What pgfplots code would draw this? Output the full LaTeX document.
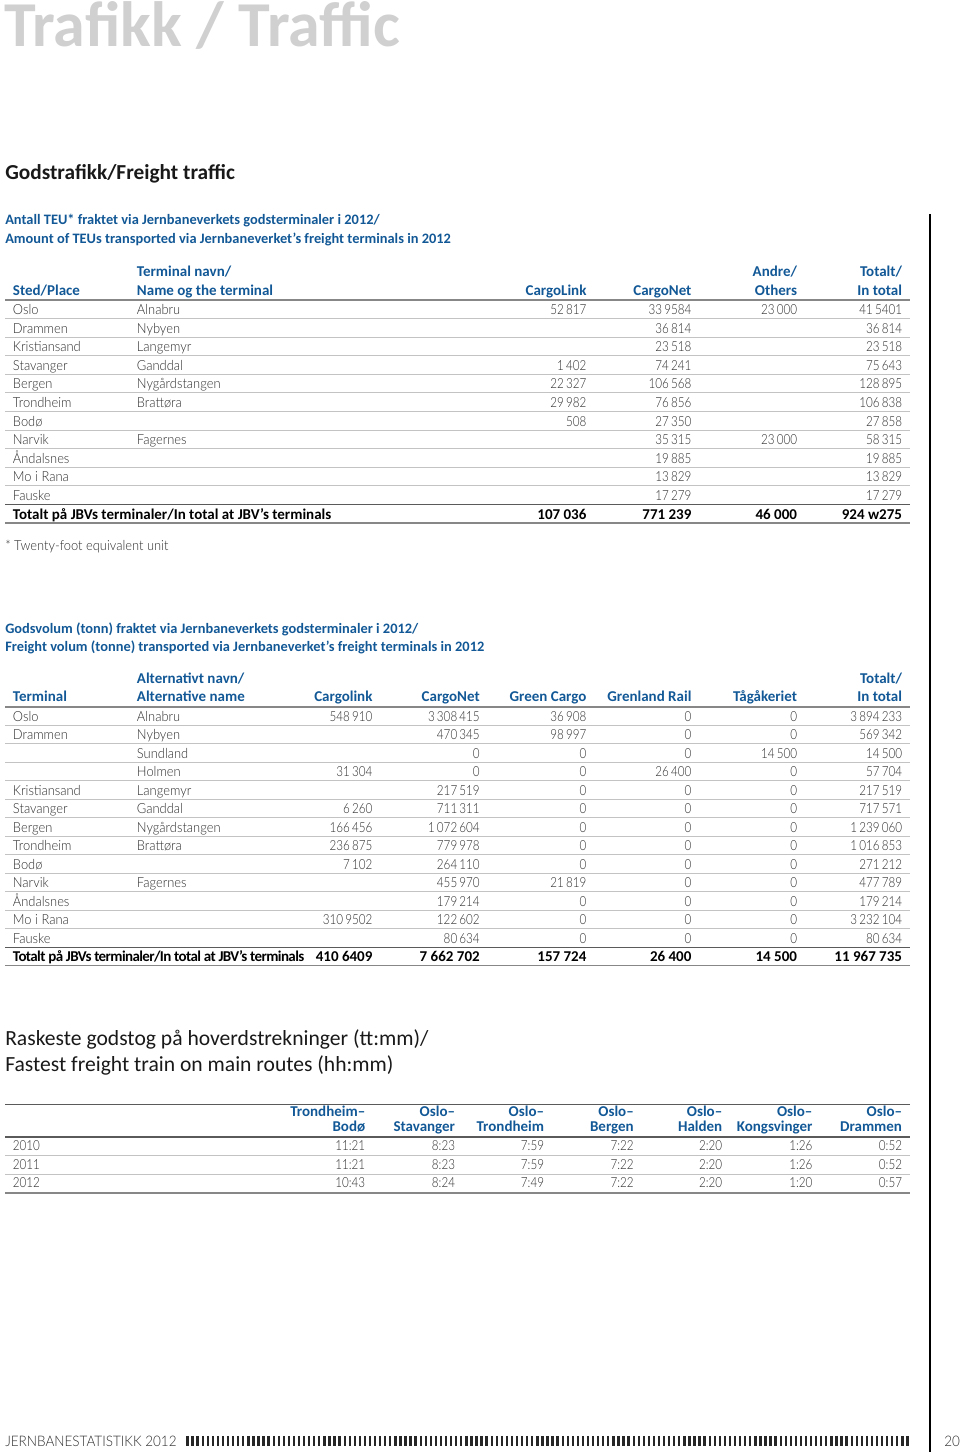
\documentclass[border=0pt]{standalone}
\usepackage{fontspec}
\setmainfont{Carlito}
\newfontfamily\lightfont{Lato Light}[FakeStretch=0.93]
\newfontfamily\numfont{Lato Light}[FakeStretch=0.84, WordSpace=0.7]
\usepackage{pgfplots}
\usepackage{pgfplotstable}
\pgfplotsset{compat=1.18}
\definecolor{jbv}{RGB}{18,88,150}
\definecolor{txt}{RGB}{45,45,45}
\definecolor{titlegray}{RGB}{208,208,208}
\definecolor{rowline}{RGB}{195,195,195}
\definecolor{headline}{RGB}{135,135,135}
\definecolor{darkline}{RGB}{90,90,90}
\newcommand\body{\lightfont\fontsize{10.4}{13}\selectfont}
\newcommand\num{\numfont\fontsize{10.4}{13}\selectfont}
\newcommand\hd{\fontsize{11.25}{13}\selectfont\bfseries}
\newcommand\tot{\fontsize{11.25}{13}\selectfont\bfseries}
\pgfplotsset{
  cellR/.style={only marks, mark=none, nodes near coords, point meta=explicit symbolic,
    nodes near coords style={anchor=base east, inner sep=0pt, font=\num, text=txt}},
  cellL/.style={cellR, nodes near coords style={anchor=base west, font=\body}},
  totR/.style={cellR, nodes near coords style={font=\tot, text=black}},
  totL/.style={cellL, nodes near coords style={font=\tot, text=black}},
}
\begin{document}
\begin{tikzpicture}
\useasboundingbox (0,0) rectangle (720pt,1089pt);
\begin{axis}[at={(0,0)}, anchor=south west, x=0.75pt, y=0.75pt, y dir=reverse,
  xmin=0, xmax=960, ymin=0, ymax=1452, hide axis, clip=false]
% ---------- Table 1: TEU ----------
\addplot[cellL] table[col sep=comma, row sep=\\, x expr=12.7, y expr={314.5+18.6*\thisrow{r}}, meta=t]
{r,t\\0,Oslo\\1,Drammen\\2,Kristiansand\\3,Stavanger\\4,Bergen\\5,Trondheim\\6,Bodø\\7,Narvik\\8,Åndalsnes\\9,Mo i Rana\\10,Fauske\\};
\addplot[cellL] table[col sep=comma, row sep=\\, x expr=136.7, y expr={314.5+18.6*\thisrow{r}}, meta=t]
{r,t\\0,Alnabru\\1,Nybyen\\2,Langemyr\\3,Ganddal\\4,Nygårdstangen\\5,Brattøra\\7,Fagernes\\};
\addplot[cellR] table[col sep=comma, row sep=\\, x expr=586.7, y expr={314.5+18.6*\thisrow{r}}, meta=t]
{r,t\\0,52 817\\3,1 402\\4,22 327\\5,29 982\\6,508\\};
\addplot[cellR] table[col sep=comma, row sep=\\, x expr=691.7, y expr={314.5+18.6*\thisrow{r}}, meta=t]
{r,t\\0,33 9584\\1,36 814\\2,23 518\\3,74 241\\4,106 568\\5,76 856\\6,27 350\\7,35 315\\8,19 885\\9,13 829\\10,17 279\\};
\addplot[cellR] table[col sep=comma, row sep=\\, x expr=797.3, y expr={314.5+18.6*\thisrow{r}}, meta=t]
{r,t\\0,23 000\\7,23 000\\};
\addplot[cellR] table[col sep=comma, row sep=\\, x expr=902.3, y expr={314.5+18.6*\thisrow{r}}, meta=t]
{r,t\\0,41 5401\\1,36 814\\2,23 518\\3,75 643\\4,128 895\\5,106 838\\6,27 858\\7,58 315\\8,19 885\\9,13 829\\10,17 279\\};
\addplot[totL] table[col sep=comma, row sep=\\, y expr={314.5+18.6*11}, meta=t]
{x,t\\12.7,Totalt på JBVs terminaler/In total at JBV’s terminals\\};
\addplot[totR] table[col sep=comma, row sep=\\, y expr={314.5+18.6*11}, meta=t]
{x,t\\586.7,107 036\\691.7,771 239\\797.3,46 000\\902.3,924 w275\\};
% ---------- Table 2: tonnes ----------
\addplot[cellL] table[col sep=comma, row sep=\\, x expr=12.7, y expr={721+18.5*\thisrow{r}}, meta=t]
{r,t\\0,Oslo\\1,Drammen\\4,Kristiansand\\5,Stavanger\\6,Bergen\\7,Trondheim\\8,Bodø\\9,Narvik\\10,Åndalsnes\\11,Mo i Rana\\12,Fauske\\};
\addplot[cellL] table[col sep=comma, row sep=\\, x expr=136.7, y expr={721+18.5*\thisrow{r}}, meta=t]
{r,t\\0,Alnabru\\1,Nybyen\\2,Sundland\\3,Holmen\\4,Langemyr\\5,Ganddal\\6,Nygårdstangen\\7,Brattøra\\9,Fagernes\\};
\addplot[cellR] table[col sep=comma, row sep=\\, x expr=372.7, y expr={721+18.5*\thisrow{r}}, meta=t]
{r,t\\0,548 910\\3,31 304\\5,6 260\\6,166 456\\7,236 875\\8,7 102\\11,310 9502\\};
\addplot[cellR] table[col sep=comma, row sep=\\, x expr=480, y expr={721+18.5*\thisrow{r}}, meta=t]
{r,t\\0,3 308 415\\1,470 345\\2,0\\3,0\\4,217 519\\5,711 311\\6,1 072 604\\7,779 978\\8,264 110\\9,455 970\\10,179 214\\11,122 602\\12,80 634\\};
\addplot[cellR] table[col sep=comma, row sep=\\, x expr=586.7, y expr={721+18.5*\thisrow{r}}, meta=t]
{r,t\\0,36 908\\1,98 997\\2,0\\3,0\\4,0\\5,0\\6,0\\7,0\\8,0\\9,21 819\\10,0\\11,0\\12,0\\};
\addplot[cellR] table[col sep=comma, row sep=\\, x expr=691.7, y expr={721+18.5*\thisrow{r}}, meta=t]
{r,t\\0,0\\1,0\\2,0\\3,26 400\\4,0\\5,0\\6,0\\7,0\\8,0\\9,0\\10,0\\11,0\\12,0\\};
\addplot[cellR] table[col sep=comma, row sep=\\, x expr=797.3, y expr={721+18.5*\thisrow{r}}, meta=t]
{r,t\\0,0\\1,0\\2,14 500\\3,0\\4,0\\5,0\\6,0\\7,0\\8,0\\9,0\\10,0\\11,0\\12,0\\};
\addplot[cellR] table[col sep=comma, row sep=\\, x expr=902.3, y expr={721+18.5*\thisrow{r}}, meta=t]
{r,t\\0,3 894 233\\1,569 342\\2,14 500\\3,57 704\\4,217 519\\5,717 571\\6,1 239 060\\7,1 016 853\\8,271 212\\9,477 789\\10,179 214\\11,3 232 104\\12,80 634\\};
\addplot[totL, nodes near coords style={font=\tot\addfontfeatures{LetterSpace=-4}}] table[col sep=comma, row sep=\\, y expr={721+18.5*13}, meta=t]
{x,t\\12.7,Totalt på JBVs terminaler/In total at JBV’s terminals\\};
\addplot[totR] table[col sep=comma, row sep=\\, y expr={721+18.5*13}, meta=t]
{x,t\\372.7,410 6409\\480,7 662 702\\586.7,157 724\\691.7,26 400\\797.3,14 500\\902.3,11 967 735\\};
% ---------- Table 3: fastest trains ----------
\addplot[cellL, nodes near coords style={font=\num}] table[col sep=comma, row sep=\\, x expr=12.7, y expr={1150.7+18.5*\thisrow{r}}, meta=t]
{r,t\\0,2010\\1,2011\\2,2012\\};
\addplot[cellR] table[col sep=comma, row sep=\\, x expr=365.5, y expr={1150.7+18.5*\thisrow{r}}, meta=t]
{r,t\\0,11:21\\1,11:21\\2,10:43\\};
\addplot[cellR] table[col sep=comma, row sep=\\, x expr=455.3, y expr={1150.7+18.5*\thisrow{r}}, meta=t]
{r,t\\0,8:23\\1,8:23\\2,8:24\\};
\addplot[cellR] table[col sep=comma, row sep=\\, x expr=544.3, y expr={1150.7+18.5*\thisrow{r}}, meta=t]
{r,t\\0,7:59\\1,7:59\\2,7:49\\};
\addplot[cellR] table[col sep=comma, row sep=\\, x expr=634, y expr={1150.7+18.5*\thisrow{r}}, meta=t]
{r,t\\0,7:22\\1,7:22\\2,7:22\\};
\addplot[cellR] table[col sep=comma, row sep=\\, x expr=722.5, y expr={1150.7+18.5*\thisrow{r}}, meta=t]
{r,t\\0,2:20\\1,2:20\\2,2:20\\};
\addplot[cellR] table[col sep=comma, row sep=\\, x expr=812.7, y expr={1150.7+18.5*\thisrow{r}}, meta=t]
{r,t\\0,1:26\\1,1:26\\2,1:20\\};
\addplot[cellR] table[col sep=comma, row sep=\\, x expr=902.3, y expr={1150.7+18.5*\thisrow{r}}, meta=t]
{r,t\\0,0:52\\1,0:52\\2,0:57\\};
\end{axis}
% ---------- page furniture in pixel coordinates ----------
\begin{scope}[x=0.75pt, y=-0.75pt, yshift=1089pt]
  % titles
  \node[anchor=base west, inner sep=0pt, text=titlegray, font=\fontsize{48}{50}\selectfont\bfseries] at (4,46.7) {Trafikk / Traffic};
  \node[anchor=base west, inner sep=0pt, text=black!90, font=\fontsize{16}{18}\selectfont\bfseries] at (5,180) {Godstrafikk/Freight traffic};
  \begin{scope}[every node/.style={anchor=base west, inner sep=0pt, text=jbv, font=\fontsize{10.8}{13}\selectfont\bfseries}]
    \node at (5,225) {Antall TEU* fraktet via Jernbaneverkets godsterminaler i 2012/};
    \node at (5,243.3) {Amount of TEUs transported via Jernbaneverket’s freight terminals in 2012};
    \node at (5,633.3) {Godsvolum (tonn) fraktet via Jernbaneverkets godsterminaler i 2012/};
    \node at (5,651.7) {Freight volum (tonne) transported via Jernbaneverket’s freight terminals in 2012};
  \end{scope}
  \node[anchor=base west, inner sep=0pt, text=txt, font=\body] at (5,551) {* Twenty-foot equivalent unit};
  \node[anchor=base west, inner sep=0pt, text=black!90, font=\fontsize{16.2}{18}\selectfont] at (5,1046) {Raskeste godstog på hoverdstrekninger (tt:mm)/};
  \node[anchor=base west, inner sep=0pt, text=black!90, font=\fontsize{16.2}{18}\selectfont] at (5,1071.7) {Fastest freight train on main routes (hh:mm)};
  % table 1 headers
  \begin{scope}[every node/.style={inner sep=0pt, text=jbv, font=\hd}]
    \node[anchor=base west] at (12.7,296) {Sted/Place};
    \node[anchor=base west] at (136.7,277) {Terminal navn/};
    \node[anchor=base west] at (136.7,296) {Name og the terminal};
    \node[anchor=base east] at (586.7,296) {CargoLink};
    \node[anchor=base east] at (691.7,296) {CargoNet};
    \node[anchor=base east] at (797.3,277) {Andre/};
    \node[anchor=base east] at (797.3,296) {Others};
    \node[anchor=base east] at (902.3,277) {Totalt/};
    \node[anchor=base east] at (902.3,296) {In total};
    % table 2 headers
    \node[anchor=base west] at (12.7,701.7) {Terminal};
    \node[anchor=base west] at (136.7,683.3) {Alternativt navn/};
    \node[anchor=base west] at (136.7,701.7) {Alternative name};
    \node[anchor=base east] at (372.7,701.7) {Cargolink};
    \node[anchor=base east] at (480,701.7) {CargoNet};
    \node[anchor=base east] at (586.7,701.7) {Green Cargo};
    \node[anchor=base east] at (691.7,701.7) {Grenland Rail};
    \node[anchor=base east] at (797.3,701.7) {Tågåkeriet};
    \node[anchor=base east] at (902.3,683.3) {Totalt/};
    \node[anchor=base east] at (902.3,701.7) {In total};
    % table 3 headers
    \node[anchor=base east] at (365.5,1116.7) {Trondheim–};
    \node[anchor=base east] at (365.5,1131.7) {Bodø};
    \node[anchor=base east] at (455.3,1116.7) {Oslo–};
    \node[anchor=base east] at (455.3,1131.7) {Stavanger};
    \node[anchor=base east] at (544.3,1116.7) {Oslo–};
    \node[anchor=base east] at (544.3,1131.7) {Trondheim};
    \node[anchor=base east] at (634,1116.7) {Oslo–};
    \node[anchor=base east] at (634,1131.7) {Bergen};
    \node[anchor=base east] at (722.5,1116.7) {Oslo–};
    \node[anchor=base east] at (722.5,1131.7) {Halden};
    \node[anchor=base east] at (812.7,1116.7) {Oslo–};
    \node[anchor=base east] at (812.7,1131.7) {Kongsvinger};
    \node[anchor=base east] at (902.3,1116.7) {Oslo–};
    \node[anchor=base east] at (902.3,1131.7) {Drammen};
  \end{scope}
  % table 1 rules
  \draw[headline, line width=1.5pt] (5,300) -- (910,300);
  \foreach \k in {1,...,10} \draw[rowline, line width=0.75pt] (5,{300+18.6*\k}) -- (910,{300+18.6*\k});
  \draw[darkline, line width=1pt] (5,504.6) -- (910,504.6);
  \draw[headline, line width=1.2pt] (5,523.2) -- (910,523.2);
  % table 2 rules
  \draw[headline, line width=1.5pt] (5,706.7) -- (910,706.7);
  \foreach \k in {1,...,12} \draw[rowline, line width=0.75pt] (5,{706.7+18.5*\k}) -- (910,{706.7+18.5*\k});
  \draw[darkline, line width=1pt] (5,947.2) -- (910,947.2);
  \draw[headline, line width=1.2pt] (5,965.7) -- (910,965.7);
  % table 3 rules
  \draw[darkline, line width=1pt] (5,1104.3) -- (910,1104.3);
  \draw[darkline, line width=1.2pt] (5,1137.3) -- (910,1137.3);
  \draw[rowline, line width=0.75pt] (5,1156) -- (910,1156);
  \draw[rowline, line width=0.75pt] (5,1174.5) -- (910,1174.5);
  \draw[headline, line width=1pt] (5,1193) -- (910,1193);
  % right margin line
  \draw[black, line width=0.9pt] (930,214) -- (930,1452);
  % footer
  \node[anchor=base west, inner sep=0pt, text=txt, font=\lightfont\fontsize{10.9}{12}\selectfont] at (5,1447) {JERNBANESTATISTIKK 2012};
  \foreach \i in {0,...,142} \draw[black!85, line width=1.75pt] ({187.5+5.07*\i},1436) -- ({187.5+5.07*\i},1446.5);
  \node[anchor=base west, inner sep=0pt, text=txt, font=\lightfont\fontsize{10.9}{12}\selectfont] at (944,1447) {20};
\end{scope}
\end{tikzpicture}
\end{document}
